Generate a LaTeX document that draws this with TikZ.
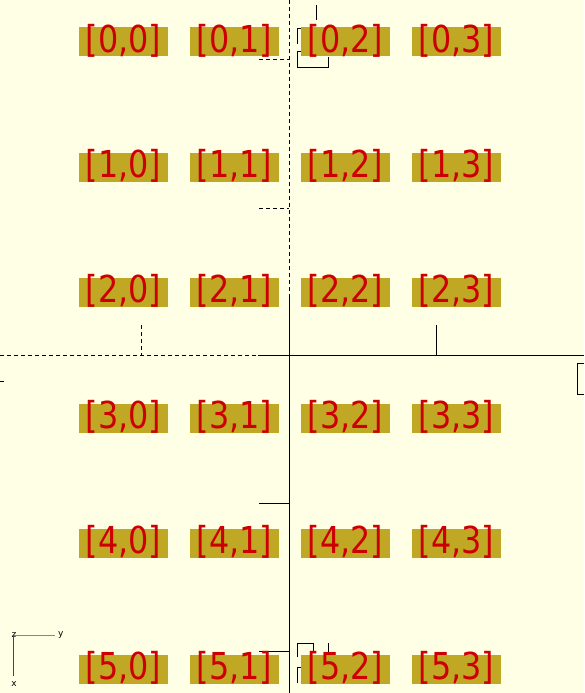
\documentclass[tikz,border=0pt]{standalone}
\usepackage{xcolor}
\usepackage{fontspec}
\usepackage{graphicx}
\usepackage{tikz}
\usetikzlibrary{positioning, calc}
\newfontfamily\cellfont{DejaVu Sans}
\definecolor{paper}{RGB}{255,255,229}
\definecolor{cellgold}{RGB}{192,168,36}
\definecolor{cellred}{RGB}{204,0,0}
\definecolor{axisgreen}{RGB}{0,230,0}
\definecolor{axisred}{RGB}{230,0,0}
\newcommand{\celltext}[1]{\smash{\raisebox{-10pt}{\scalebox{0.91}[1.06]{#1}}}}
\tikzset{
	cell/.style={fill=cellgold, minimum width=89pt, minimum height=29pt, inner sep=0pt, text=cellred, font=\cellfont\fontsize{35}{35}\selectfont},
	axis/.style={line width=1pt},
	negaxis/.style={line width=1pt, dash pattern=on 4pt off 3pt},
	tag/.style={font=\cellfont\fontsize{9}{9}\selectfont, inner sep=0pt}
}

\begin{document}
\begin{tikzpicture}[x=1pt, y=-1pt]

	\fill [paper] (0,0) rectangle (584,693);
	\useasboundingbox (0,0) rectangle (584,693);

	% axes
	\draw [negaxis] (289,0) -- (289,294);
	\draw [axis] (289,294) -- (289,693);
	\draw [negaxis] (0,355) -- (258,355);
	\draw [axis] (258,355) -- (584,355);

	% scale ticks
	\draw [negaxis] (259,60) -- (289,60);
	\draw [negaxis] (259,208) -- (289,208);
	\draw [axis] (259,503) -- (289,503);
	\draw [axis] (259,651) -- (289,651);
	\draw [negaxis] (141,325) -- (141,355);
	\draw [axis] (436,325) -- (436,355);
	\draw [axis] (0,381) -- (4,381);
	\draw [axis] (584,363) -- (577,363) -- (577,394) -- (584,394);

	% scale numbers behind the cells
	\draw [axis] (316.7,5) -- (316.7,20);
	\draw [axis] (301,29) -- (297.3,29) -- (297.3,44);
	\draw [axis] (301,52) -- (297.3,52) -- (297.3,68) -- (328,68) -- (328,57);
	\draw [axis] (297.3,657) -- (297.3,643.3) -- (313.3,643.3) -- (313.3,652);
	\draw [axis] (328.3,643) -- (328.3,652);
	\draw [axis] (301,667.7) -- (297.3,667.7) -- (297.3,683);

	% cells
	\foreach \r in {0,1,2,3,4,5}
	\foreach \c in {0,1,2,3}
	{
	\node [cell] (cell\r\c) at (123.5+111*\c, 42+125.4*\r) {\celltext{[\r,\c]}};
	}

	% orientation
	\coordinate (origin) at (13,635);
	\node [tag] (zlab) at (14,635) {z};
	\node [tag, anchor=west] (ylab) at (58,635) {y};
	\node [tag] (xlab) at (14,684) {x};
	\draw [axisgreen, line width=1pt] (origin) -- (55,635);
	\draw [axisred, line width=1pt] (origin) -- (13,676);

\end{tikzpicture}
\end{document}
